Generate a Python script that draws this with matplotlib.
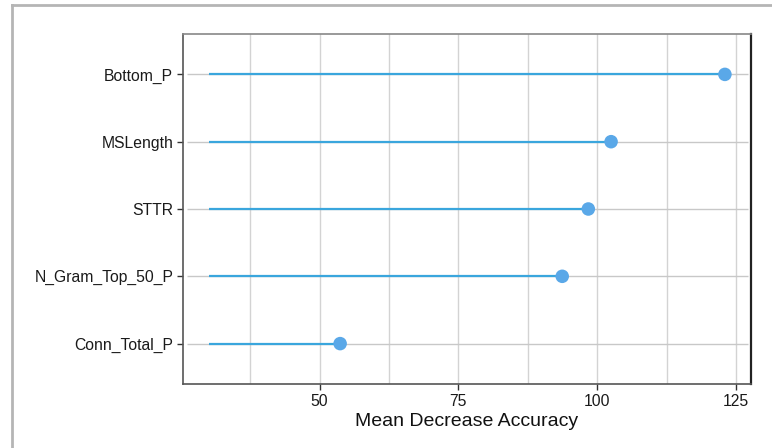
import matplotlib
matplotlib.use("Agg")
import matplotlib.pyplot as plt
from matplotlib.lines import Line2D

categories = ["Bottom_P", "MSLength", "STTR", "N_Gram_Top_50_P", "Conn_Total_P"]
values = [123.0, 102.5, 98.4, 93.7, 53.7]
seg_start = 30
xticks = [50, 75, 100, 125]
xlabel = "Mean Decrease Accuracy"

plt.rcParams['font.family'] = ['Liberation Sans', 'DejaVu Sans']

fig = plt.figure(figsize=(7.72, 4.48), dpi=100)
ax = fig.add_axes([183/772, 1-384/448, (751-183)/772, (384-34)/448])

n = len(categories)
ypos = list(range(n, 0, -1))

ax.set_xlim(25.4, 127.7)
ax.set_ylim(0.4, n + 0.6)

# grid
for xv in [37.5, 50, 62.5, 75, 87.5, 100, 112.5, 125]:
    ax.axvline(xv, color="#d3d3d3", lw=1.0, zorder=0)
for y in ypos:
    ax.hlines(y, 26.2, 127.1, color="#c8c8c8", lw=1.0, zorder=0)

ax.hlines(ypos, seg_start, values, color="#3aa6dd", lw=1.6, zorder=2)
ax.scatter(values, ypos, s=95, color="#5aa8e8", edgecolor="none", zorder=3)

ax.set_yticks(ypos)
ax.set_yticklabels(categories)
ax.set_xticks(xticks)
ax.set_xticklabels([str(t) for t in xticks])
ax.tick_params(axis="both", direction="out", length=4, width=1, color="#333333",
               labelsize=11.3, labelcolor="#1a1a1a", pad=3)
ax.set_xlabel(xlabel, fontsize=14, color="#111111", labelpad=3)

for side, sp in ax.spines.items():
    sp.set_linewidth(1.2)
ax.spines["left"].set_color("#555555")
ax.spines["bottom"].set_color("#555555")
ax.spines["top"].set_color("#888888")
ax.spines["right"].set_color("#222222")
ax.spines["right"].set_linewidth(1.6)

# outer frame
fig.add_artist(Line2D([11.5/772, 11.5/772], [0, 1-5.5/448], transform=fig.transFigure,
                      color="#b5b5b5", lw=2))
fig.add_artist(Line2D([11.5/772, 1], [1-5.5/448, 1-5.5/448], transform=fig.transFigure,
                      color="#b5b5b5", lw=2))

fig.savefig("out.png", dpi=100)
